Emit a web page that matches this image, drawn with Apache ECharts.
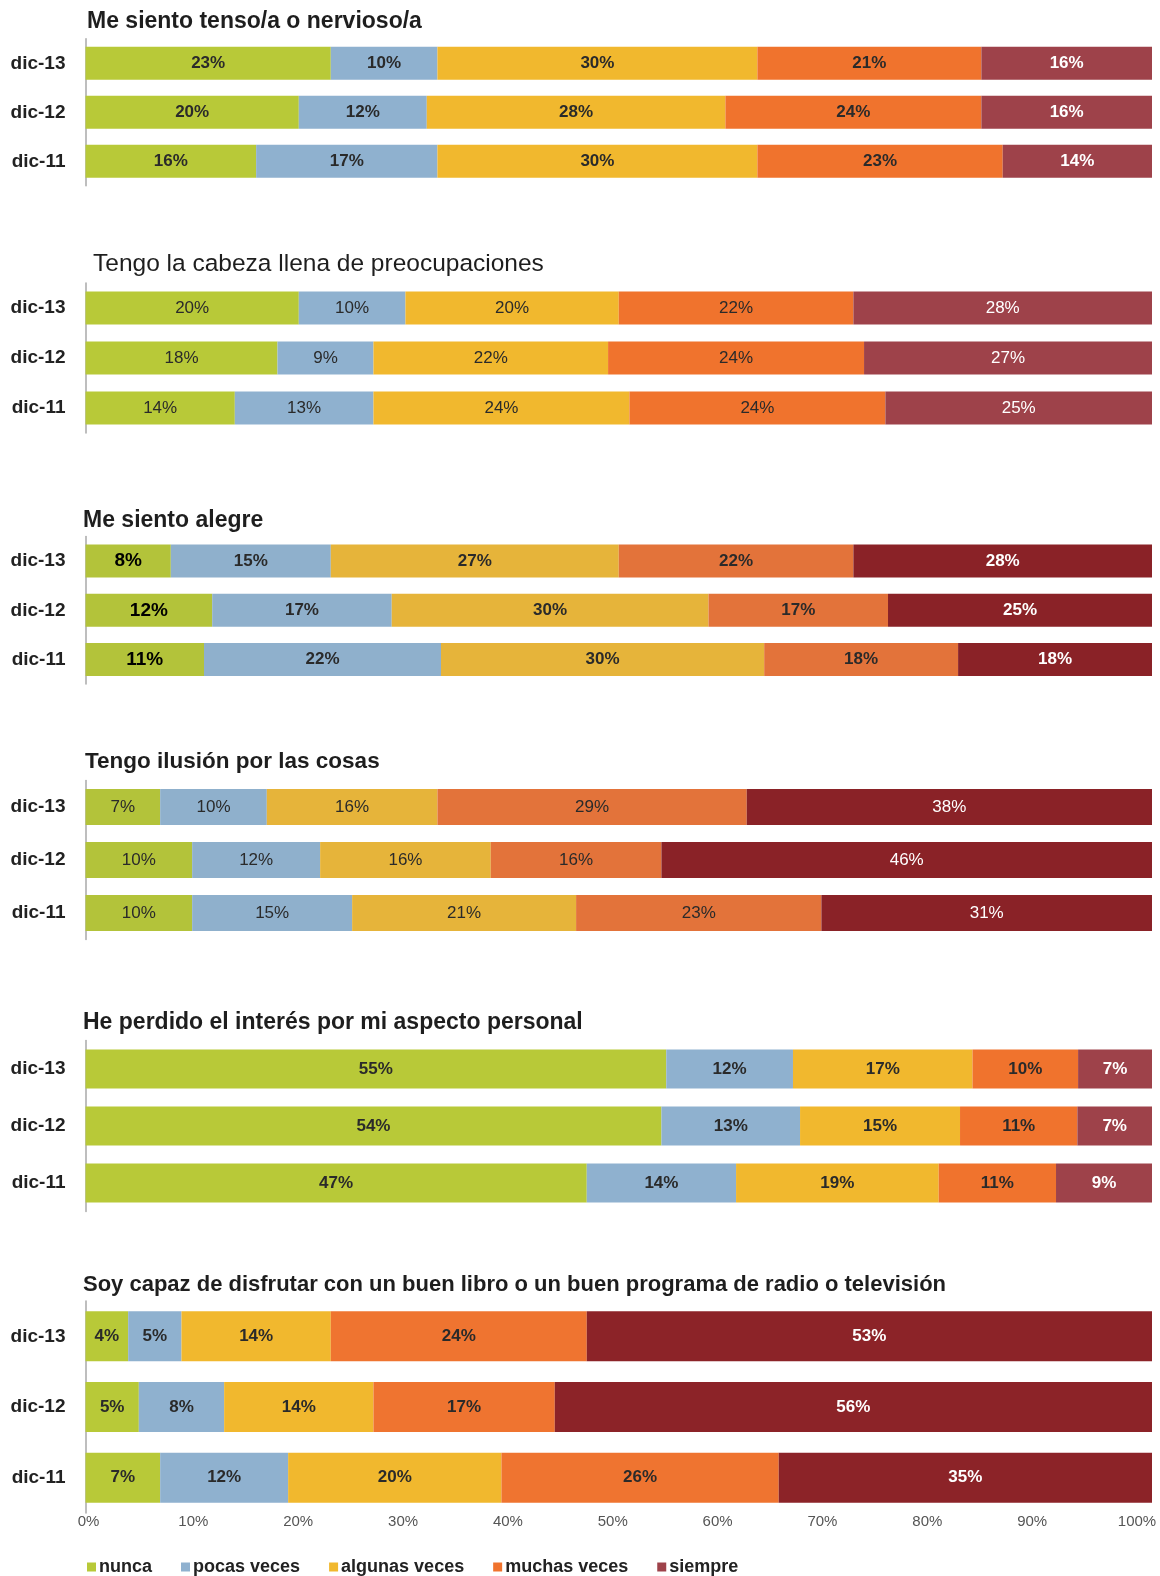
<!DOCTYPE html>
<html>
<head>
<meta charset="utf-8">
<script src="https://cdn.jsdelivr.net/npm/echarts@6/dist/echarts.min.js"></script>
<style>
html,body{margin:0;padding:0;background:#fff;}
#chart{width:1160px;height:1576px;}
</style>
</head>
<body>
<div id="chart"></div>
<script>
// ---- Data ----
const categories = ['dic-11', 'dic-12', 'dic-13'];
const seriesNames = ['nunca', 'pocas veces', 'algunas veces', 'muchas veces', 'siempre'];
const xTicks = ['0%','10%','20%','30%','40%','50%','60%','70%','80%','90%','100%'];

const titles = [
  'Me siento tenso/a o nervioso/a',
  'Tengo la cabeza llena de preocupaciones',
  'Me siento alegre',
  'Tengo ilusión por las cosas',
  'He perdido el interés por mi aspecto personal',
  'Soy capaz de disfrutar con un buen libro o un buen programa de radio o televisión'
];

// values per panel: [nunca, pocas, algunas, muchas, siempre], rows in order dic-11, dic-12, dic-13
const p1_dic11 = [16, 17, 30, 23, 14];
const p1_dic12 = [20, 12, 28, 24, 16];
const p1_dic13 = [23, 10, 30, 21, 16];

const p2_dic11 = [14, 13, 24, 24, 25];
const p2_dic12 = [18, 9, 22, 24, 27];
const p2_dic13 = [20, 10, 20, 22, 28];

const p3_dic11 = [11, 22, 30, 18, 18];
const p3_dic12 = [12, 17, 30, 17, 25];
const p3_dic13 = [8, 15, 27, 22, 28];

const p4_dic11 = [10, 15, 21, 23, 31];
const p4_dic12 = [10, 12, 16, 16, 46];
const p4_dic13 = [7, 10, 16, 29, 38];

const p5_dic11 = [47, 14, 19, 11, 9];
const p5_dic12 = [54, 13, 15, 11, 7];
const p5_dic13 = [55, 12, 17, 10, 7];

const p6_dic11 = [7, 12, 20, 26, 35];
const p6_dic12 = [5, 8, 14, 17, 56];
const p6_dic13 = [4, 5, 14, 24, 53];

const panels = [
  [p1_dic11, p1_dic12, p1_dic13],
  [p2_dic11, p2_dic12, p2_dic13],
  [p3_dic11, p3_dic12, p3_dic13],
  [p4_dic11, p4_dic12, p4_dic13],
  [p5_dic11, p5_dic12, p5_dic13],
  [p6_dic11, p6_dic12, p6_dic13]
];

// ---- Styling / layout ----
const paletteA = ['#b8c938', '#8fb1cf', '#f1b82e', '#f0732d', '#9e424a'];
const paletteB = ['#b3c33a', '#8fb0cc', '#e6b43a', '#e3733a', '#8a2227'];
const paletteC = ['#b8c938', '#8fb1cf', '#f1b82e', '#ef7430', '#8c2328'];
const palettes = [paletteA, paletteA, paletteB, paletteB, paletteA, paletteC];

const layout = [
  {top: 38.8, height: 147, bar: 33, titleTop: 10, titleLeft: 87, titleSize: 23, titleW: 'bold', labelW: 'bold'},
  {top: 283, height: 150, bar: 33, titleTop: 252, titleLeft: 93, titleSize: 24.5, titleW: 'normal', labelW: 'normal'},
  {top: 536.5, height: 147.6, bar: 33, titleTop: 509, titleLeft: 83, titleSize: 23, titleW: 'bold', labelW: 'bold'},
  {top: 780.5, height: 159, bar: 36, titleTop: 750, titleLeft: 85, titleSize: 22.5, titleW: 'bold', labelW: 'normal'},
  {top: 1040.5, height: 171, bar: 39, titleTop: 1011, titleLeft: 83, titleSize: 23, titleW: 'bold', labelW: 'bold'},
  {top: 1301, height: 212, bar: 50, titleTop: 1274, titleLeft: 83, titleSize: 22, titleW: 'bold', labelW: 'bold'}
];

const FONT = '"Liberation Sans", Arial, Helvetica, sans-serif';

const option = {
  backgroundColor: '#ffffff',
  animation: false,
  title: [],
  grid: [],
  xAxis: [],
  yAxis: [],
  series: [],
  legend: {
    left: 82,
    top: 1553,
    icon: 'rect',
    itemWidth: 9,
    itemHeight: 9,
    itemGap: 29,
    textStyle: {fontFamily: FONT, fontSize: 18, fontWeight: 'bold', color: '#222', padding: [0, 0, 0, -2]},
    data: seriesNames.map((n, i) => ({name: n, itemStyle: {color: paletteA[i]}}))
  }
};

panels.forEach((rows, p) => {
  const L = layout[p];
  option.title.push({
    text: titles[p],
    left: L.titleLeft,
    top: L.titleTop,
    padding: 0,
    textStyle: {fontFamily: FONT, fontSize: L.titleSize, fontWeight: L.titleW, color: '#1e1e1e'}
  });
  option.grid.push({left: 85.5, right: 8, top: L.top, height: L.height});
  option.xAxis.push({
    type: 'value', gridIndex: p, min: 0, max: 100, show: false
  });
  option.yAxis.push({
    type: 'category', gridIndex: p, data: categories,
    axisTick: {show: false},
    axisLine: {show: true, lineStyle: {color: '#a8a8a8', width: 1.5}},
    axisLabel: {fontFamily: FONT, fontSize: 19, fontWeight: 'bold', color: '#222', margin: 20}
  });
  const sums = rows.map(r => r.reduce((a, b) => a + b, 0));
  seriesNames.forEach((name, s) => {
    const isLast = s === 4;
    const green3 = (p === 2 && s === 0);
    option.series.push({
      name: name,
      type: 'bar',
      stack: 'p' + p,
      xAxisIndex: p,
      yAxisIndex: p,
      barWidth: L.bar,
      itemStyle: {color: palettes[p][s]},
      label: {
        show: true,
        position: 'inside',
        fontFamily: FONT,
        fontSize: green3 ? 19 : 17,
        fontWeight: green3 ? 'bold' : L.labelW,
        color: isLast ? '#ffffff' : (green3 ? '#000' : '#2a2a2a')
      },
      data: rows.map((r, k) => ({
        value: r[s] * 100 / sums[k],
        label: {formatter: r[s] + '%'}
      }))
    });
  });
});

// Separate axis for bottom percent scale
option.grid.push({left: 88.5, right: 23, top: 1301, height: 205});
option.xAxis.push({
  type: 'value', gridIndex: 6, min: 0, max: 100, interval: 10,
  axisLine: {show: false}, axisTick: {show: false}, splitLine: {show: false},
  axisLabel: {
    margin: 8,
    fontFamily: FONT, fontSize: 15, color: '#555',
    formatter: v => xTicks[Math.round(v / 10)]
  }
});
option.yAxis.push({type: 'value', gridIndex: 6, show: false, min: 0, max: 1});

const chart = echarts.init(document.getElementById('chart'), null, {renderer: 'canvas'});
chart.setOption(option);
</script>
</body>
</html>
